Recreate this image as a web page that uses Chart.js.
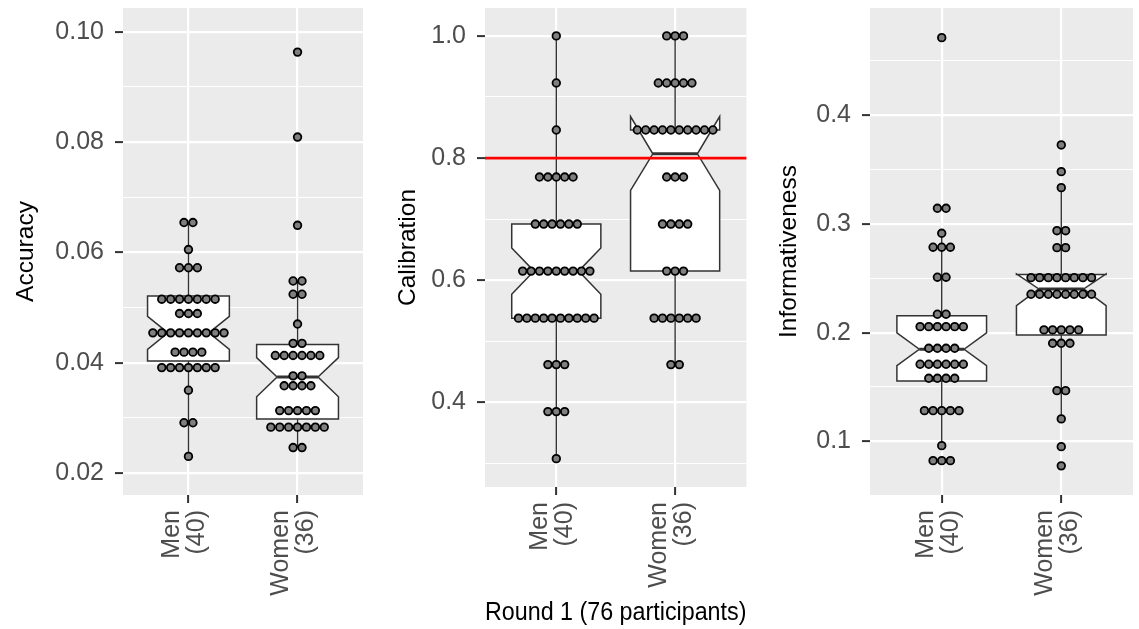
<!DOCTYPE html>
<html>
<head>
<meta charset="utf-8">
<script src="https://cdn.jsdelivr.net/npm/chart.js@4.4.1/dist/chart.umd.min.js"></script>
<style>
  body { margin: 0; background: #fff; }
  #wrap { position: relative; width: 1139px; height: 629px; overflow: hidden; }
  canvas { position: absolute; top: 0; }
</style>
</head>
<body>
<div id="wrap">
  <canvas id="accuracy" width="370" height="629" style="left:0px"></canvas>
  <canvas id="calibration" width="380" height="629" style="left:372px"></canvas>
  <canvas id="informativeness" width="383" height="629" style="left:756px"></canvas>
</div>
<script>
const groups = ['Men', 'Women'];

// dot rows: value of each stacked row and how many dots sit in it
const accMenValues   = [0.0654, 0.0605, 0.0572, 0.0515, 0.0489, 0.0454, 0.0419, 0.0391, 0.0350, 0.0291, 0.0230];
const accMenCounts   = [2, 1, 3, 7, 3, 9, 4, 7, 1, 2, 1];
const accWomenValues = [0.0963, 0.0809, 0.0649, 0.0548, 0.0524, 0.0470, 0.0435, 0.0413, 0.0376, 0.0358, 0.0313, 0.0283, 0.0246];
const accWomenCounts = [1, 1, 1, 2, 2, 1, 2, 6, 2, 4, 5, 7, 2];

const calMenValues   = [1.0, 0.923, 0.846, 0.769, 0.692, 0.615, 0.538, 0.462, 0.385, 0.308];
const calMenCounts   = [1, 1, 1, 5, 6, 9, 10, 3, 3, 1];
const calWomenValues = [1.0, 0.923, 0.846, 0.769, 0.692, 0.615, 0.538, 0.462];
const calWomenCounts = [3, 5, 10, 3, 4, 3, 6, 2];

const infMenValues   = [0.4714, 0.3144, 0.2914, 0.2786, 0.2510, 0.2169, 0.2055, 0.1856, 0.1709, 0.1580, 0.1282, 0.0960, 0.0822];
const infMenCounts   = [1, 2, 1, 3, 2, 2, 6, 4, 6, 4, 5, 1, 3];
const infWomenValues = [0.3727, 0.3481, 0.3334, 0.2938, 0.2782, 0.2506, 0.2353, 0.2025, 0.1902, 0.1466, 0.1206, 0.0951, 0.0774];
const infWomenCounts = [1, 1, 1, 2, 2, 8, 8, 5, 3, 2, 1, 1, 1];

// notched box stats, [Men, Women]
const accWhiskerLow  = [0.0230, 0.0246];
const accQ1          = [0.0403, 0.0298];
const accNotchLow    = [0.0424, 0.0338];
const accMedian      = [0.0454, 0.0374];
const accNotchHigh   = [0.0484, 0.0409];
const accQ3          = [0.0521, 0.0433];
const accWhiskerHigh = [0.0654, 0.0548];

const calWhiskerLow  = [0.308, 0.462];
const calQ1          = [0.538, 0.615];
const calNotchLow    = [0.577, 0.747];
const calMedian      = [0.615, 0.807];
const calNotchHigh   = [0.653, 0.868];
const calQ3          = [0.692, 0.846];
const calWhiskerHigh = [1.0, 1.0];
const calTarget = 0.8;

const infWhiskerLow  = [0.0960, 0.1206];
const infQ1          = [0.1556, 0.1979];
const infNotchLow    = [0.1697, 0.2248];
const infMedian      = [0.1847, 0.2402];
const infNotchHigh   = [0.1997, 0.2540];
const infQ3          = [0.2156, 0.2535];
const infWhiskerHigh = [0.2914, 0.3334];

const FONT = "'Liberation Sans', Arial, sans-serif";
const X_MIN = 0.4, X_MAX = 2.6;

const sum = a => a.reduce((s, v) => s + v, 0);
const groupN = [sum(accMenCounts), sum(accWomenCounts)];

function stack(values, counts, center, step) {
  const pts = [];
  values.forEach((v, r) => {
    const n = counts[r];
    for (let k = 0; k < n; k++) pts.push({x: center + (k - (n - 1) / 2) * step, y: v});
  });
  return pts;
}

function noPad(s) {
  s.paddingTop = 0; s.paddingBottom = 0; s.paddingLeft = 0; s.paddingRight = 0;
}

function panelPlugin(box, refLine) {
  return {
    id: 'panel',
    beforeDraw(chart) {
      const {ctx, chartArea: a} = chart;
      ctx.save();
      ctx.fillStyle = '#ebebeb';
      ctx.fillRect(a.left, a.top, a.width, a.height);
      ctx.restore();
    },
    beforeDatasetsDraw(chart) {
      const {ctx, chartArea: a, scales: {x, y}} = chart;
      const half = 0.375, indent = 0.1875;
      ctx.save();
      box.q1.forEach((_, i) => {
        const c = i + 1;
        const P = (xv, yv) => [x.getPixelForValue(xv), y.getPixelForValue(yv)];
        ctx.strokeStyle = '#333333';
        ctx.lineWidth = 1.4;
        ctx.beginPath();
        ctx.moveTo(...P(c, box.q3[i])); ctx.lineTo(...P(c, box.hi[i]));
        ctx.moveTo(...P(c, box.q1[i])); ctx.lineTo(...P(c, box.lo[i]));
        ctx.stroke();
        const poly = [
          [c - half, box.q3[i]], [c - half, box.nhi[i]], [c - half + indent, box.med[i]],
          [c - half, box.nlo[i]], [c - half, box.q1[i]], [c + half, box.q1[i]],
          [c + half, box.nlo[i]], [c + half - indent, box.med[i]], [c + half, box.nhi[i]],
          [c + half, box.q3[i]]
        ];
        ctx.beginPath();
        poly.forEach((p, k) => k ? ctx.lineTo(...P(p[0], p[1])) : ctx.moveTo(...P(p[0], p[1])));
        ctx.closePath();
        ctx.fillStyle = '#ffffff';
        ctx.fill();
        ctx.lineWidth = 1.5;
        ctx.stroke();
        ctx.lineWidth = 3;
        ctx.beginPath();
        ctx.moveTo(...P(c - half + indent, box.med[i]));
        ctx.lineTo(...P(c + half - indent, box.med[i]));
        ctx.stroke();
      });
      if (refLine !== undefined) {
        const py = y.getPixelForValue(refLine);
        ctx.strokeStyle = '#ff0000';
        ctx.lineWidth = 2.6;
        ctx.beginPath();
        ctx.moveTo(a.left, py); ctx.lineTo(a.right, py);
        ctx.stroke();
      }
      ctx.restore();
    }
  };
}

function makePanel(id, p) {
  const pxPerUnit = p.plotWidth / (X_MAX - X_MIN);
  const step = p.dotPx / pxPerUnit;
  const dots = stack(p.menValues, p.menCounts, 1, step)
    .concat(stack(p.womenValues, p.womenCounts, 2, step));
  const major = v => Math.round(v / p.step) % 2 === 0;

  new Chart(document.getElementById(id), {
    type: 'scatter',
    data: {
      datasets: [{
        data: dots,
        pointRadius: 3.8,
        pointBackgroundColor: '#7f7f7f',
        pointBorderColor: '#000000',
        pointBorderWidth: 1.8,
        pointHoverRadius: 3.8
      }]
    },
    options: {
      responsive: false,
      animation: false,
      events: [],
      layout: {padding: {top: 8, right: p.padRight, bottom: 0, left: 0}},
      plugins: {legend: {display: false}, tooltip: {enabled: false}},
      scales: {
        x: {
          type: 'linear', min: X_MIN, max: X_MAX,
          afterFit: s => { s.height = p.xAxisHeight; noPad(s); },
          afterBuildTicks: s => { s.ticks = groups.map((g, i) => ({value: i + 1})); },
          border: {display: false},
          grid: {color: '#ffffff', lineWidth: 2.2, tickColor: '#333333', tickWidth: 2, tickLength: 8},
          ticks: {
            autoSkip: false, minRotation: 90, maxRotation: 90, padding: 7, labelOffset: -16,
            color: '#4d4d4d', font: {family: FONT, size: 25, lineHeight: 1.0},
            callback: v => { const i = Math.round(v) - 1; return [groups[i], '(' + groupN[i] + ')']; }
          },
          title: {
            display: !!p.xTitle, text: p.xTitle || '', color: '#000000',
            font: {family: FONT, size: 25.5}, padding: {top: 0, bottom: 1}
          }
        },
        y: {
          type: 'linear', min: p.yMin, max: p.yMax,
          afterFit: s => { s.width = p.yAxisWidth; noPad(s); },
          border: {display: false},
          grid: {
            color: '#ffffff',
            lineWidth: c => major(c.tick.value) ? 2.2 : 1.1,
            tickColor: c => major(c.tick.value) ? '#333333' : 'rgba(0,0,0,0)',
            tickWidth: 2, tickLength: 8
          },
          ticks: {
            stepSize: p.step, includeBounds: false, padding: 11,
            color: '#4d4d4d', font: {family: FONT, size: 25},
            callback: v => major(v) ? v.toFixed(p.decimals) : ''
          },
          title: {
            display: true, text: p.yTitle, color: '#000000',
            font: {family: FONT, size: 24.5}, padding: {top: p.titlePad, bottom: 0}
          }
        }
      }
    },
    plugins: [panelPlugin(p.box, p.refLine)]
  });
}

makePanel('accuracy', {
  yMin: 0.016, yMax: 0.1043, step: 0.01, decimals: 2, yTitle: 'Accuracy', titlePad: 12,
  yAxisWidth: 123, padRight: 7, xAxisHeight: 134, plotWidth: 240, dotPx: 8.9,
  menValues: accMenValues, menCounts: accMenCounts, womenValues: accWomenValues, womenCounts: accWomenCounts,
  box: {lo: accWhiskerLow, q1: accQ1, nlo: accNotchLow, med: accMedian, nhi: accNotchHigh, q3: accQ3, hi: accWhiskerHigh}
});

makePanel('calibration', {
  yMin: 0.2616, yMax: 1.0457, step: 0.1, decimals: 1, yTitle: 'Calibration', titlePad: 22,
  yAxisWidth: 113, padRight: 4, xAxisHeight: 142, plotWidth: 263, dotPx: 8.45,
  xTitle: 'Round 1 (' + sum(groupN) + ' participants)',
  menValues: calMenValues, menCounts: calMenCounts, womenValues: calWomenValues, womenCounts: calWomenCounts,
  box: {lo: calWhiskerLow, q1: calQ1, nlo: calNotchLow, med: calMedian, nhi: calNotchHigh, q3: calQ3, hi: calWhiskerHigh},
  refLine: calTarget
});

makePanel('informativeness', {
  yMin: 0.0506, yMax: 0.4987, step: 0.05, decimals: 1, yTitle: 'Informativeness', titlePad: 19,
  yAxisWidth: 114, padRight: 6, xAxisHeight: 134, plotWidth: 263, dotPx: 8.65,
  menValues: infMenValues, menCounts: infMenCounts, womenValues: infWomenValues, womenCounts: infWomenCounts,
  box: {lo: infWhiskerLow, q1: infQ1, nlo: infNotchLow, med: infMedian, nhi: infNotchHigh, q3: infQ3, hi: infWhiskerHigh}
});
</script>
</body>
</html>
